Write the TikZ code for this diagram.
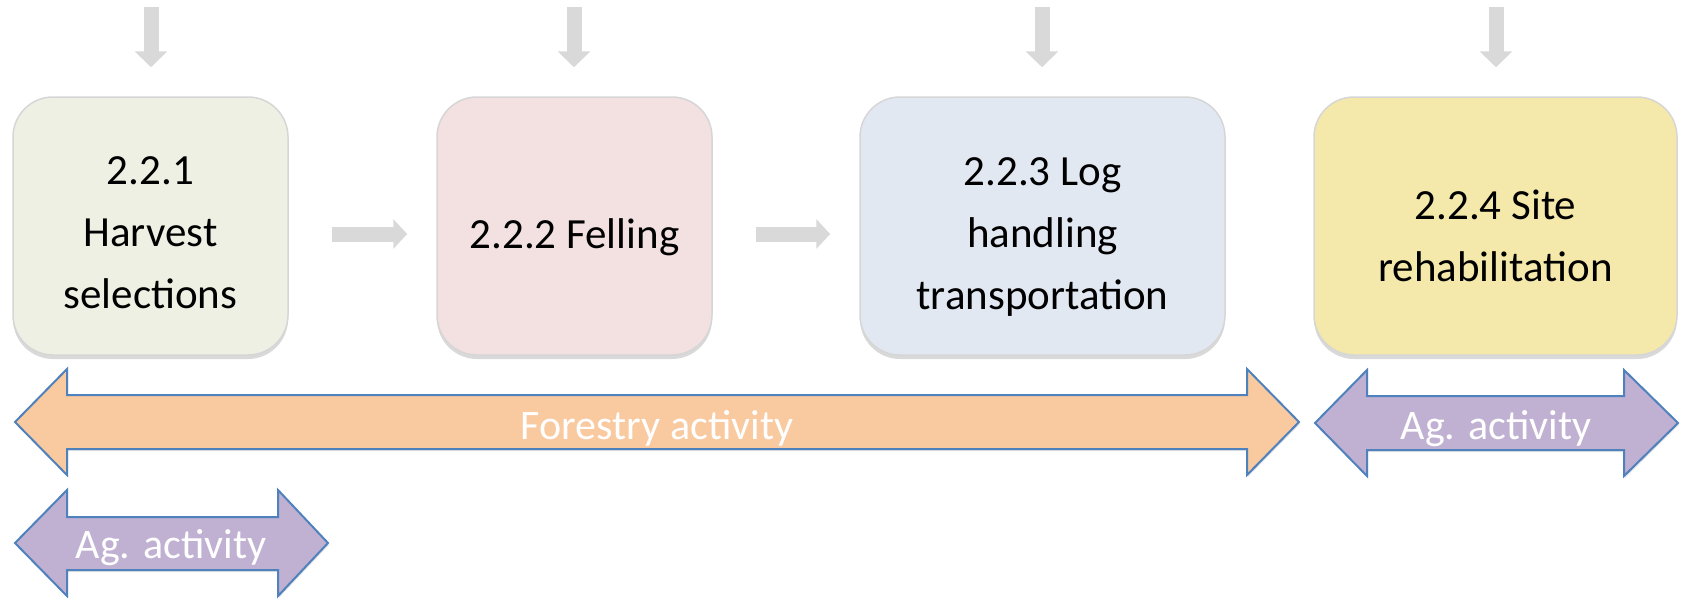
\documentclass[tikz,border=0pt]{standalone}
\usepackage{fontspec}
\setmainfont{Carlito}
\usetikzlibrary{arrows.meta,shadows}

\definecolor{harvestfill}{HTML}{EFF0E4}
\definecolor{fellingfill}{HTML}{F3E1E1}
\definecolor{logfill}{HTML}{E2E8F2}
\definecolor{sitefill}{HTML}{F4E9AA}
\definecolor{boxline}{HTML}{D6D6D6}
\definecolor{flowgray}{HTML}{D9D9D9}
\definecolor{forestfill}{HTML}{F9C9A0}
\definecolor{agfill}{HTML}{C0B1D3}
\definecolor{spanline}{HTML}{4F81BD}

\begin{document}
\begin{tikzpicture}
    [
  x=1pt, y=-1pt,
  stage/.style={
    rectangle,
    rounded corners=40pt,
    draw=boxline,
    line width=1.5pt,
    minimum width=275pt,
    minimum height=258pt,
    inner sep=0pt,
    drop shadow={shadow xshift=0pt, shadow yshift=-4pt, opacity=.3}
  },
  stagetext/.style={
    align=center,
    inner sep=0pt,
    font=\fontsize{43}{62}\selectfont
  },
  flow/.style={
    draw=flowgray,
    line width=15pt,
    -{Triangle[width=29pt,length=14pt]}
  },
  feed/.style={
    draw=flowgray,
    line width=15pt,
    -{Triangle[width=32pt,length=16pt]}
  },
  span/.style={
    draw=spanline,
    line width=2pt,
    line join=miter,
    drop shadow={shadow xshift=1pt, shadow yshift=-2pt, opacity=.2}
  },
  spantext/.style={
    anchor=base,
    text=white,
    inner sep=0pt,
    font=\fontsize{42}{50}\selectfont
  }
  ]
  \useasboundingbox (0,0) rectangle (1685,600);

  % stages
  \node (harvest) at (150.5,226) [stage, fill=harvestfill] {};
  \node (felling) at (574.5,226) [stage, fill=fellingfill] {};
  \node (logs) at (1042.5,226) [stage, fill=logfill, minimum width=365pt] {};
  \node (site) at (1495.5,226) [stage, fill=sitefill, minimum width=363pt] {};

  \node (harvestlabel) at ([yshift=-7pt]harvest.center) [stagetext] {2.2.1\\Harvest\\selections};
  \node (fellinglabel) at ([yshift=-11pt]felling.center) [stagetext] {2.2.2 Felling};
  \node (logslabel) at ([yshift=-11pt]logs.center) [stagetext] {2.2.3 Log\\handling\\transportation};
  \node (sitelabel) at ([yshift=-10pt]site.center) [stagetext] {2.2.4 Site\\rehabilitation};

  % inputs from above
  \coordinate (in1) at (151,7);
  \coordinate (in2) at (574,7);
  \coordinate (in3) at (1042,7);
  \coordinate (in4) at (1496,7);
  \draw [feed, shorten >=29pt] (in1) -- (in1 |- harvest.north);
  \draw [feed, shorten >=29pt] (in2) -- (in2 |- felling.north);
  \draw [feed, shorten >=29pt] (in3) -- (in3 |- logs.north);
  \draw [feed, shorten >=29pt] (in4) -- (in4 |- site.north);

  % sequence
  \draw [flow, shorten <=43pt, shorten >=29pt]
    ([yshift=-8pt]harvest.east) -- ([yshift=-8pt]felling.west);
  \draw [flow, shorten <=43pt, shorten >=29pt]
    ([yshift=-8pt]felling.east) -- ([yshift=-8pt]logs.west);

  % activity spans
  \draw [span, fill=forestfill] (15,422) -- (67,369) -- (67,395) -- (1247,395)
    -- (1247,369) -- (1299,422) -- (1247,475) -- (1247,449) -- (67,449)
    -- (67,475) -- cycle;
  \node (forestry) at (657,439) [spantext] {Forestry activity};

  \draw [span, fill=agfill] (1315,423) -- (1367,370) -- (1367,396) -- (1624,396)
    -- (1624,370) -- (1678,423) -- (1624,476) -- (1624,450) -- (1367,450)
    -- (1367,476) -- cycle;
  \node (agsite) at (1496,439) [spantext] {Ag. activity};

  \draw [span, fill=agfill] (15,543) -- (67,490) -- (67,517) -- (278,517)
    -- (278,490) -- (328,543) -- (278,596) -- (278,570) -- (67,570)
    -- (67,596) -- cycle;
  \node (agharvest) at (171,558) [spantext] {Ag. activity};
\end{tikzpicture}
\end{document}
